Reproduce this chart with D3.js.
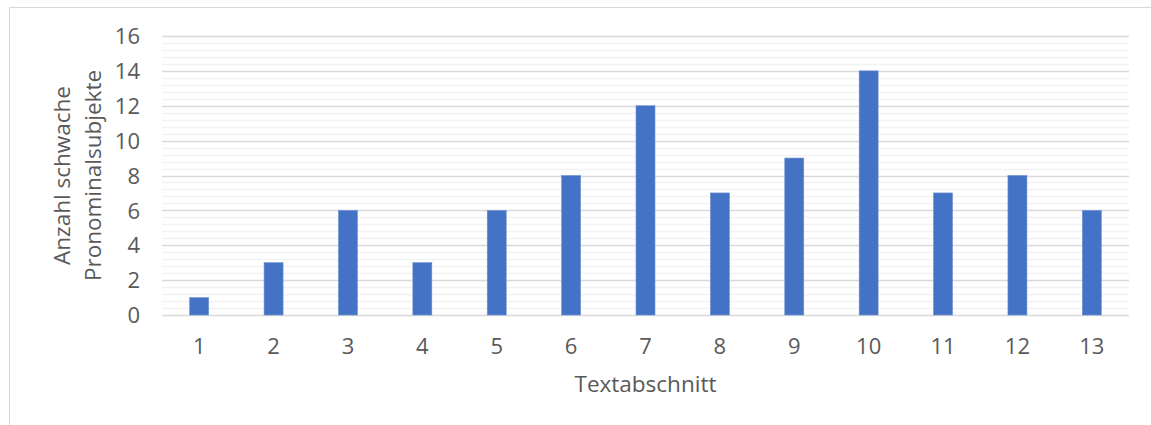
<!DOCTYPE html>
<html>
<head>
<meta charset="utf-8">
<script src="https://cdn.jsdelivr.net/npm/d3@7/dist/d3.min.js"></script>
<style>
  body { margin: 0; background: #fff; }
  svg text { font-family: "Open Sans", "Segoe UI", sans-serif; fill: #595959; }
</style>
</head>
<body>
<svg id="chart" width="1151" height="425"></svg>
<script>
// data
var sections = ["1","2","3","4","5","6","7","8","9","10","11","12","13"];
var counts = [1, 3, 6, 3, 6, 8, 12, 7, 9, 14, 7, 8, 6];
var yTicks = [0, 2, 4, 6, 8, 10, 12, 14, 16];

var W = 1151, H = 425;
var m = { left: 162, right: 22, top: 36, bottom: 110 };
var fs = "22.5px";

var svg = d3.select("#chart");

// chart frame (runs off the picture right/bottom)
svg.append("rect")
    .attr("x", 9.5).attr("y", 7.5)
    .attr("width", W + 20).attr("height", H + 20)
    .attr("fill", "#fff").attr("stroke", "#d9d9d9").attr("stroke-width", 1);

var x = d3.scaleBand().domain(sections).range([m.left, W - m.right]).paddingInner(0.745).paddingOuter(0.3725);
var y = d3.scaleLinear().domain([0, 16]).range([H - m.bottom, m.top]);

// minor grid every 0.4
var minor = d3.range(0, 16.001, 0.4).filter(function (v) { return Math.abs(v / 2 - Math.round(v / 2)) > 1e-6; });
svg.append("g").selectAll("line").data(minor).enter().append("line")
    .attr("x1", m.left).attr("x2", W - m.right)
    .attr("y1", function (d) { return Math.round(y(d)) + 0.5; })
    .attr("y2", function (d) { return Math.round(y(d)) + 0.5; })
    .attr("stroke", "#f2f2f2").attr("stroke-width", 1.3);

// major grid
svg.append("g").selectAll("line").data(yTicks).enter().append("line")
    .attr("x1", m.left).attr("x2", W - m.right)
    .attr("y1", function (d) { return Math.round(y(d)) + 0.5; })
    .attr("y2", function (d) { return Math.round(y(d)) + 0.5; })
    .attr("stroke", "#d9d9d9").attr("stroke-width", 1.3);

// bars
svg.append("g").selectAll("rect").data(counts).enter().append("rect")
    .attr("x", function (d, i) { return x(sections[i]); })
    .attr("y", function (d) { return y(d); })
    .attr("width", x.bandwidth())
    .attr("height", function (d) { return y(0) - y(d); })
    .attr("fill", "#4472c4")
    .attr("stroke", "#6a8fd4").attr("stroke-width", 0.6);

// y axis labels
var yAxis = d3.axisLeft(y).tickValues(yTicks).tickSize(0).tickPadding(0);
var gy = svg.append("g").attr("transform", "translate(140,0)").call(yAxis);
gy.select(".domain").remove();
gy.selectAll("text").style("font-size", "22px").attr("dy", "0.35em");

// x axis labels
var xAxis = d3.axisBottom(x).tickSize(0).tickPadding(0);
var gx = svg.append("g").attr("transform", "translate(0," + (H - m.bottom) + ")").call(xAxis);
gx.select(".domain").remove();
gx.selectAll("text").style("font-size", "22px").attr("y", 31).attr("dy", "0.35em");

// axis titles
svg.append("text")
    .attr("x", (m.left + W - m.right) / 2).attr("y", 384)
    .attr("text-anchor", "middle").attr("dy", "0.35em")
    .style("font-size", fs)
    .text("Textabschnitt");

var cy = (m.top + H - m.bottom) / 2;
svg.append("text")
    .attr("transform", "translate(62," + cy + ") rotate(-90)")
    .attr("text-anchor", "middle").attr("dy", "0.35em")
    .style("font-size", fs)
    .text("Anzahl schwache");
svg.append("text")
    .attr("transform", "translate(93," + cy + ") rotate(-90)")
    .attr("text-anchor", "middle").attr("dy", "0.35em")
    .style("font-size", fs)
    .text("Pronominalsubjekte");
</script>
</body>
</html>
